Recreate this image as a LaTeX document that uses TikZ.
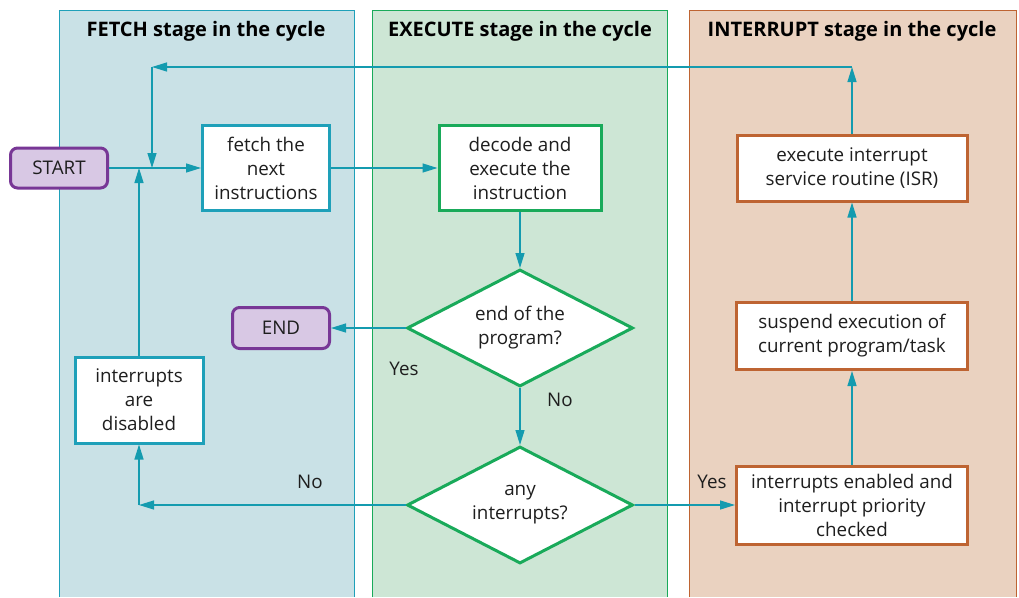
\documentclass[tikz,border=0pt]{standalone}
\usepackage{fontspec}
\setmainfont{Open Sans}
\usetikzlibrary{arrows.meta,shapes.geometric}

\definecolor{fetchfill}{RGB}{201,225,230}
\definecolor{fetchline}{RGB}{30,160,185}
\definecolor{execfill}{RGB}{205,230,213}
\definecolor{execline}{RGB}{25,170,90}
\definecolor{intfill}{RGB}{234,210,192}
\definecolor{intline}{RGB}{190,100,50}
\definecolor{termfill}{RGB}{216,200,228}
\definecolor{termline}{RGB}{120,55,150}
\definecolor{flowline}{RGB}{20,155,175}
\definecolor{txt}{RGB}{30,30,30}

\tikzset{
    panel/.style={line width=1pt},
    title/.style={font=\fontsize{20}{22}\selectfont\bfseries, text=black},
    stepbox/.style={draw, line width=3pt, fill=white, align=center, inner sep=0pt,
        text=txt, font=\fontsize{18.8}{24}\selectfont},
    term/.style={stepbox, draw=termline, fill=termfill, rounded corners=7pt},
    query/.style={diamond, aspect=2, draw=execline, line width=3pt, fill=white,
        align=center, inner sep=0pt, minimum width=226pt, minimum height=117pt,
        text=txt, font=\fontsize{18.8}{24}\selectfont},
    flow/.style={draw=flowline, line width=1.3pt, -{Triangle[length=15pt,width=9pt]}},
    plain/.style={draw=flowline, line width=1.3pt},
    lbl/.style={text=txt, font=\fontsize{18.8}{22}\selectfont}
}

\begin{document}
\begin{tikzpicture}[x=1pt, y=-1pt]

    \useasboundingbox (0, 0) rectangle (1019, 597);

    % three stages, open at the bottom
    \fill[fetchfill] (59, 10) rectangle (354, 597);
    \draw[panel, fetchline] (59, 597) -- (59, 10) -- (354, 10) -- (354, 597);
    \fill[execfill] (372, 10) rectangle (667, 597);
    \draw[panel, execline] (372, 597) -- (372, 10) -- (667, 10) -- (667, 597);
    \fill[intfill] (689, 10) rectangle (1016, 597);
    \draw[panel, intline] (689, 597) -- (689, 10) -- (1016, 10) -- (1016, 597);

    \node[title] (tfetch) at (206, 31) {FETCH stage in the cycle};
    \node[title] (texec) at (520, 31) {EXECUTE stage in the cycle};
    \node[title] (tint) at (852, 31) {INTERRUPT stage in the cycle};

    % boxes
    \node[term, minimum width=97pt, minimum height=40pt] (start) at (59, 168) {START};
    \node[stepbox, draw=fetchline, minimum width=127pt, minimum height=85pt] (fetch) at (266, 168)
        {fetch the\\next\\instructions};
    \node[stepbox, draw=execline, minimum width=162pt, minimum height=85pt] (decode) at (520, 168)
        {decode and\\execute the\\instruction};
    \node[query] (endq) at (520, 328) {end of the\\program?};
    \node[term, minimum width=97pt, minimum height=41pt] (finish) at (281, 328) {END};
    \node[query] (intq) at (520, 505) {any\\interrupts?};
    \node[stepbox, draw=fetchline, minimum width=128pt, minimum height=86pt] (disabled) at (139, 400)
        {interrupts\\are\\disabled};
    \node[stepbox, draw=intline, minimum width=231pt, minimum height=78pt] (enabled) at (852, 505)
        {interrupts enabled and\\interrupt priority\\checked};
    \node[stepbox, draw=intline, minimum width=231pt, minimum height=67pt] (suspend) at (852, 336)
        {suspend execution of\\current program/task};
    \node[stepbox, draw=intline, minimum width=230pt, minimum height=66pt] (isr) at (852, 168)
        {execute interrupt\\service routine (ISR)};

    % corners of the loops
    \coordinate (topr) at (852, 67);
    \coordinate (topl) at (152, 67);
    \coordinate (merge) at (152, 168);
    \coordinate (nocorner) at (139, 505);
    \coordinate (join) at (139, 168);

    % connectors
    \draw[flow] (start) -- (fetch);
    \draw[flow] (fetch) -- (decode);
    \draw[flow] (decode) -- (endq);
    \draw[flow] (endq) -- (finish);
    \draw[flow] (endq) -- (intq);
    \draw[flow] (intq) -- (enabled);
    \draw[flow] (enabled) -- (suspend);
    \draw[flow] (suspend) -- (isr);
    \draw[flow] (isr) -- (topr);
    \draw[flow] (topr) -- (topl);
    \draw[flow] (topl) -- (merge);
    \draw[flow] (intq) -- (nocorner);
    \draw[flow] (nocorner) -- (disabled);
    \draw[flow] (disabled) -- (join);

    % answers
    \node[lbl] (yesend) at (404, 369) {Yes};
    \node[lbl] (noend) at (560, 400) {No};
    \node[lbl] (noint) at (310, 482) {No};
    \node[lbl] (yesint) at (712, 482) {Yes};

\end{tikzpicture}
\end{document}
